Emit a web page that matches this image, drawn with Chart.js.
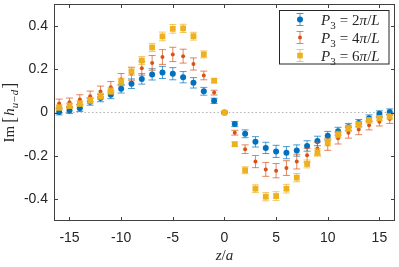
<!DOCTYPE html>
<html><head><meta charset="utf-8">
<script src="https://cdn.jsdelivr.net/npm/chart.js@4/dist/chart.umd.min.js"></script>
<style>html,body{margin:0;padding:0;background:#fff;}</style>
</head><body>
<canvas id="c" width="399" height="267"></canvas>
<script>
// ---- data ----
const zValues = [-16,-15,-14,-13,-12,-11,-10,-9,-8,-7,-6,-5,-4,-3,-2,-1,0,1,2,3,4,5,6,7,8,9,10,11,12,13,14,15,16];
const imP2 = [0.003,0.010,0.020,0.050,0.067,0.082,0.110,0.133,0.155,0.176,0.185,0.179,0.163,0.137,0.098,0.054,0.000,-0.053,-0.098,-0.135,-0.163,-0.179,-0.185,-0.175,-0.154,-0.131,-0.107,-0.086,-0.067,-0.048,-0.026,-0.006,0.003];
const errP2 = [0.014,0.014,0.015,0.016,0.017,0.018,0.020,0.022,0.024,0.026,0.028,0.028,0.026,0.024,0.018,0.012,0.004,0.012,0.018,0.024,0.026,0.028,0.028,0.026,0.024,0.022,0.020,0.018,0.017,0.016,0.015,0.014,0.014];
const imP4 = [0.042,0.047,0.060,0.075,0.097,0.117,0.152,0.179,0.204,0.229,0.256,0.268,0.260,0.224,0.171,0.092,0.000,-0.093,-0.169,-0.226,-0.262,-0.268,-0.256,-0.226,-0.197,-0.166,-0.146,-0.119,-0.093,-0.078,-0.058,-0.042,-0.030];
const errP4 = [0.020,0.020,0.022,0.024,0.025,0.026,0.028,0.030,0.032,0.034,0.034,0.033,0.032,0.028,0.020,0.011,0.004,0.011,0.020,0.028,0.032,0.033,0.034,0.034,0.032,0.030,0.028,0.026,0.025,0.024,0.022,0.020,0.020];
const imP6 = [0.023,0.031,0.041,0.056,0.075,0.099,0.142,0.189,0.240,0.300,0.351,0.386,0.388,0.352,0.268,0.147,0.000,-0.146,-0.266,-0.351,-0.388,-0.385,-0.351,-0.300,-0.237,-0.184,-0.138,-0.101,-0.072,-0.056,-0.036,-0.026,-0.018];
const errP6 = [0.012,0.012,0.013,0.014,0.014,0.015,0.016,0.017,0.018,0.019,0.020,0.020,0.019,0.018,0.016,0.010,0.005,0.010,0.016,0.018,0.019,0.020,0.020,0.019,0.018,0.017,0.016,0.015,0.014,0.014,0.013,0.012,0.012];
const zeroLineX = [-16.5, 16.5];
const zeroLineY = [0, 0];
const xTickValues = [-15,-10,-5,0,5,10,15];
const xTickLabels = ['-15','-10','-5','0','5','10','15'];
const yTickValues = [-0.4,-0.2,0,0.2,0.4];
const yTickLabels = ['-0.4','-0.2','0','0.2','0.4'];
const seriesNames = ['P3 = 2π/L','P3 = 4π/L','P3 = 6π/L'];

const BLUE='#0072BD', RED='#D95319', YEL='#EDB120';
const INK='#262626';

function toPts(xs, ys){ return xs.map((x,i)=>({x:x, y:ys[i]})); }

function segFont(s, size){
  const sz = s.sub ? Math.round(size*0.72) : (s.big ? size*s.big : size);
  return (s.it?'italic ':'') + sz + 'px "Liberation Serif", "DejaVu Serif", serif';
}
function richWidth(ctx, segs, size){
  let w=0; segs.forEach(s=>{ctx.font=segFont(s,size); w+=ctx.measureText(s.t).width+(s.pad||0);}); return w;
}
function drawRich(ctx, segs, x, y, size, align){
  const w = richWidth(ctx, segs, size);
  let cx = align==='center' ? x-w/2 : x;
  ctx.textBaseline='alphabetic'; ctx.textAlign='left';
  segs.forEach(s=>{ ctx.font=segFont(s,size);
    ctx.fillText(s.t, cx, y + (s.sub? size*0.28 : 0) + (s.dy||0));
    cx += ctx.measureText(s.t).width + (s.pad||0); });
}

function drawErrBar(ctx, x, yTop, yBot, color){
  ctx.save(); ctx.strokeStyle=color; ctx.globalAlpha=0.7; ctx.lineWidth=1;
  ctx.beginPath();
  ctx.moveTo(x, yTop); ctx.lineTo(x, yBot);
  ctx.moveTo(x-3.5, yTop); ctx.lineTo(x+3.5, yTop);
  ctx.moveTo(x-3.5, yBot); ctx.lineTo(x+3.5, yBot);
  ctx.stroke(); ctx.restore();
}

const errPlugin = {
  id:'errbars',
  beforeDatasetDraw(chart, args){
    const ds = chart.data.datasets[args.index];
    if(!ds.errs) return;
    const xs = chart.scales.x, ys = chart.scales.y, ctx = chart.ctx;
    ds.data.forEach((p,i)=>{
      const e = ds.errs[i];
      drawErrBar(ctx, xs.getPixelForValue(p.x), ys.getPixelForValue(p.y+e), ys.getPixelForValue(p.y-e), ds.backgroundColor);
    });
  },
  afterDraw(chart){
    const ctx = chart.ctx, a = chart.chartArea, xs = chart.scales.x, ys = chart.scales.y;
    ctx.save();
    // frame
    ctx.strokeStyle='#404040'; ctx.lineWidth=1;
    const L=Math.round(a.left)+0.5, R=Math.round(a.right)-0.5, T=Math.round(a.top)+0.5, B=Math.round(a.bottom)-0.5;
    ctx.strokeRect(L, T, R-L, B-T);
    // inward ticks
    ctx.beginPath();
    xTickValues.forEach(v=>{ const px=Math.round(xs.getPixelForValue(v))+0.5;
      ctx.moveTo(px,B); ctx.lineTo(px,B-3.5); ctx.moveTo(px,T); ctx.lineTo(px,T+3.5); });
    yTickValues.forEach(v=>{ const py=Math.round(ys.getPixelForValue(v))+0.5;
      ctx.moveTo(L,py); ctx.lineTo(L+3.5,py); ctx.moveTo(R,py); ctx.lineTo(R-3.5,py); });
    ctx.stroke();
    // axis titles
    ctx.fillStyle=INK;
    drawRich(ctx, [{t:'z',it:true},{t:'/'},{t:'a',it:true}], (a.left+a.right)/2, 260, 15, 'center');
    ctx.save(); ctx.translate(14, (a.top+a.bottom)/2); ctx.rotate(-Math.PI/2);
    drawRich(ctx, [{t:'Im',pad:3},{t:'[',big:1.25,dy:1,pad:1},{t:'h',it:true},{t:'u−d',it:true,sub:true,pad:1},{t:']',big:1.25,dy:1}], 0, 0, 15, 'center');
    ctx.restore();
    // legend
    const lx=279.5, ly=10.5, lw=109.5, lh=53.5;
    ctx.fillStyle='#fff'; ctx.fillRect(lx,ly,lw,lh);
    ctx.strokeStyle=INK; ctx.lineWidth=1; ctx.strokeRect(lx,ly,lw,lh);
    const rows=[19.5,37.5,55.5];
    const dsets=[chart.data.datasets[1],chart.data.datasets[2],chart.data.datasets[3]];
    rows.forEach((ry,i)=>{
      const d=dsets[i];
      drawErrBar(ctx, 300, ry-6, ry+6, d.backgroundColor);
      ctx.fillStyle=d.backgroundColor;
      if(d.pointStyle==='rect'){ ctx.fillRect(300-2.8, ry-2.8, 5.6, 5.6); }
      else { ctx.beginPath(); ctx.arc(300, ry, d.pointRadius, 0, Math.PI*2); ctx.fill(); }
      ctx.fillStyle=INK;
      const num = seriesNames[i].split('= ')[1].split('π')[0];
      drawRich(ctx, [{t:'P',it:true},{t:'3',sub:true,pad:4},{t:'=',pad:4},{t:num},{t:'π',it:true},{t:'/'},{t:'L',it:true}], 321, ry+5, 15, 'left');
    });
    ctx.restore();
  }
};

new Chart(document.getElementById('c'), {
  type:'scatter',
  data:{ datasets:[
    { label:'zero', type:'line', data:toPts(zeroLineX, zeroLineY), borderColor:'#b0b0b0', borderWidth:1, borderDash:[1.5,2.3], pointRadius:0, order:10 },
    { label:seriesNames[0], data:toPts(zValues, imP2), errs:errP2, backgroundColor:BLUE, borderColor:BLUE, pointStyle:'circle', pointRadius:3.0, borderWidth:0, order:3 },
    { label:seriesNames[1], data:toPts(zValues, imP4), errs:errP4, backgroundColor:RED, borderColor:RED, pointStyle:'circle', pointRadius:2.0, borderWidth:0, order:2 },
    { label:seriesNames[2], data:toPts(zValues, imP6), errs:errP6, backgroundColor:YEL, borderColor:YEL, pointStyle:'rect', pointRadius:4.1, borderWidth:0, order:1 }
  ]},
  options:{
    responsive:false, animation:false, devicePixelRatio:1,
    layout:{ padding:{ top:1, right:1.5, left:0, bottom:0 } },
    plugins:{ legend:{display:false}, tooltip:{enabled:false} },
    scales:{
      x:{ type:'linear', min:-16.5, max:16.5,
        afterBuildTicks:s=>{ s.ticks = xTickValues.map(v=>({value:v})); },
        afterFit:s=>{ s.height=46; s.paddingLeft=0; s.paddingRight=0; },
        ticks:{ callback:(v)=>xTickLabels[xTickValues.indexOf(v)], color:INK, font:{family:'"Liberation Sans", Arial, sans-serif', size:14}, padding:9, maxRotation:0, autoSkip:false },
        grid:{ display:true, drawOnChartArea:false, drawTicks:false },
        border:{ display:false }
      },
      y:{ type:'linear', min:-0.5, max:0.5,
        afterBuildTicks:s=>{ s.ticks = yTickValues.map(v=>({value:v})); },
        afterFit:s=>{ s.width=54; s.paddingTop=0; s.paddingBottom=0; },
        ticks:{ callback:(v)=>{ const i=yTickValues.findIndex(t=>Math.abs(t-v)<1e-9); return yTickLabels[i]; }, color:INK, font:{family:'"Liberation Sans", Arial, sans-serif', size:14}, padding:6, autoSkip:false },
        grid:{ display:true, drawOnChartArea:false, drawTicks:false },
        border:{ display:false }
      }
    }
  },
  plugins:[errPlugin]
});
</script>
</body></html>
